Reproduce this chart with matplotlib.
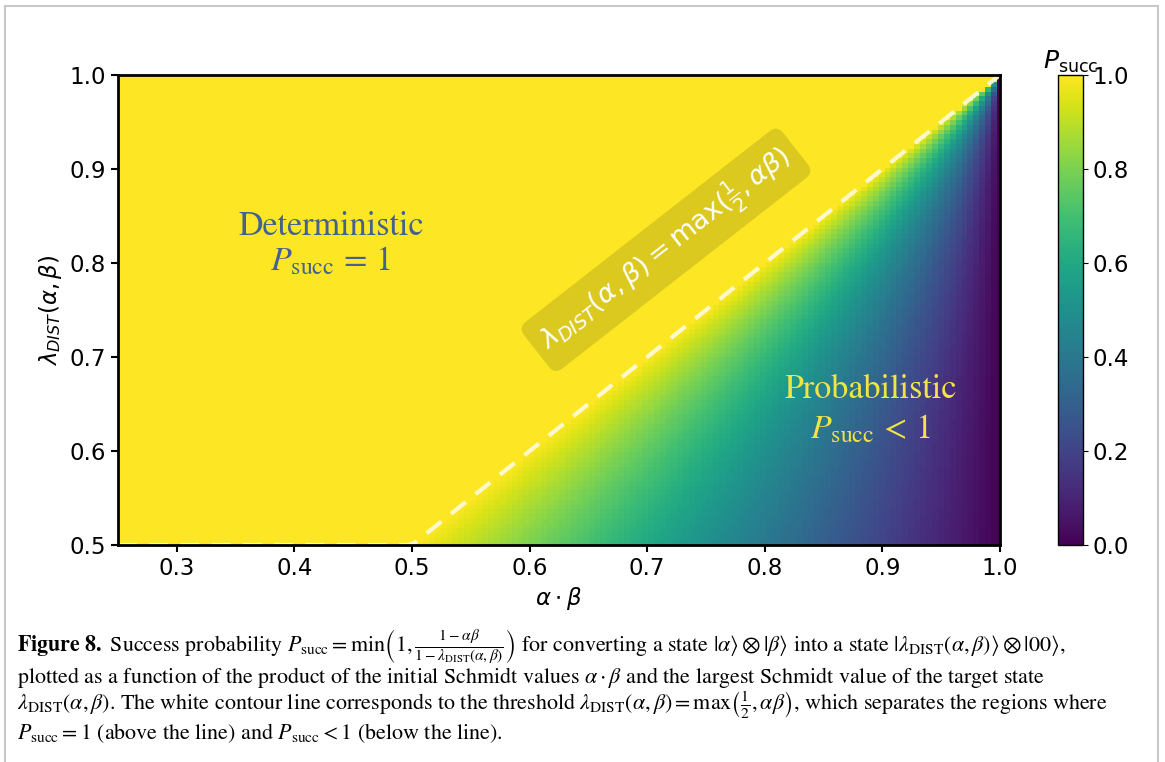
import numpy as np
import matplotlib
matplotlib.use("Agg")
import matplotlib.pyplot as plt
from matplotlib.patches import Rectangle

# grid of the product alpha*beta and of lambda_DIST
ab_vals = np.linspace(0.25, 1.0, 150)
lam_vals = np.linspace(0.5, 1.0, 100)
cbar_ticks = [0.0, 0.2, 0.4, 0.6, 0.8, 1.0]
x_ticks = [0.3, 0.4, 0.5, 0.6, 0.7, 0.8, 0.9, 1.0]
y_ticks = [0.5, 0.6, 0.7, 0.8, 0.9, 1.0]

# P_succ = min(1, (1 - ab) / (1 - lambda)) as stated in the caption
AB, LAM = np.meshgrid(ab_vals, lam_vals)
with np.errstate(divide="ignore", invalid="ignore"):
    P = np.minimum(1.0, (1 - AB) / (1 - LAM))
P = np.nan_to_num(P, nan=1.0)
threshold = np.maximum(0.5, ab_vals)

fig = plt.figure(figsize=(11.65, 7.62), dpi=100)

ax = fig.add_axes([118 / 1165, 1 - 545 / 762, 882 / 1165, 470 / 762])
mesh = ax.pcolormesh(ab_vals, lam_vals, P, cmap="viridis", vmin=0, vmax=1,
                     shading="nearest")
ax.plot(ab_vals, threshold, ls=(0, (4.5, 3)), color="#fffbe0", lw=3, alpha=0.9)
ax.set_xlim(0.25, 1.0)
ax.set_ylim(0.5, 1.0)
ax.set_xticks(x_ticks)
ax.set_yticks(y_ticks)
ax.tick_params(labelsize=16.5, width=1.5, length=5)
for s in ax.spines.values():
    s.set_linewidth(2)
ax.set_xlabel(r"$\alpha \cdot \beta$", fontsize=16.5)
ax.set_ylabel(r"$\lambda_{DIST}(\alpha, \beta)$", fontsize=16.5)

ax.text(0.431, 0.819, "Deterministic\n" + r"$P_{\mathrm{succ}}\,=\,1$",
        fontsize=24.5, color="#44618f", ha="center", va="center",
        family="STIXGeneral", math_fontfamily="stix", linespacing=1.1)
ax.text(0.89, 0.643, "Probabilistic\n" + r"$P_{\mathrm{succ}}\,<\,1$",
        fontsize=24.5, color="#f2e445", ha="center", va="center",
        family="STIXGeneral", math_fontfamily="stix", linespacing=1.3)
ax.text(0.716, 0.814,
        r"$\lambda_{DIST}(\alpha, \beta) = \mathrm{max}(\frac{1}{2}, \alpha\beta)$",
        fontsize=19.5, color="white", ha="center", va="center", rotation=38,
        rotation_mode="anchor",
        bbox=dict(boxstyle="round,pad=0.35", facecolor="black",
                  edgecolor="none", alpha=0.13))

cax = fig.add_axes([1058 / 1165, 1 - 545 / 762, 25 / 1165, 470 / 762])
cb = fig.colorbar(mesh, cax=cax, ticks=cbar_ticks)
cb.ax.tick_params(labelsize=16.5)
cb.outline.set_linewidth(1)
cax.set_title(r"$P_{\mathrm{succ}}$", fontsize=18, pad=4)

# outer frame of the figure panel
fig.patches.append(Rectangle((5 / 1165, -0.1), 1153 / 1165, 1.1 - 6 / 762,
                             transform=fig.transFigure, fill=False,
                             edgecolor="#c8c8c8", lw=1.5))

cap = dict(fontsize=15.8, family="STIXGeneral", math_fontfamily="stix",
           va="baseline", ha="left")
fig.text(17 / 1165, 1 - 651 / 762,
         r"$\mathbf{Figure\ 8.}$ Success probability "
         r"$P_{\rm succ} = \min\left(1, \frac{1-\alpha\beta}{1-\lambda_{\rm DIST}(\alpha,\beta)}\right)$"
         r" for converting a state $|\alpha\rangle \otimes |\beta\rangle$ into a state "
         r"$|\lambda_{\rm DIST}(\alpha,\beta)\rangle \otimes |00\rangle$,", **cap)
fig.text(17 / 1165, 1 - 683 / 762,
         r"plotted as a function of the product of the initial Schmidt values "
         r"$\alpha \cdot \beta$ and the largest Schmidt value of the target state", **cap)
fig.text(17 / 1165, 1 - 710 / 762,
         r"$\lambda_{\rm DIST}(\alpha,\beta)$. The white contour line corresponds to the threshold "
         r"$\lambda_{\rm DIST}(\alpha,\beta) = \max\left(\frac{1}{2}, \alpha\beta\right)$"
         r", which separates the regions where", **cap)
fig.text(17 / 1165, 1 - 739 / 762,
         r"$P_{\rm succ} = 1$ (above the line) and $P_{\rm succ} < 1$ (below the line).", **cap)

fig.savefig("out.png", dpi=100)
